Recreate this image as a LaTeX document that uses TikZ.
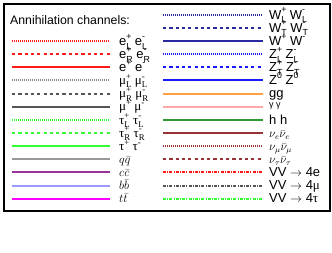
\documentclass[tikz,border=0pt]{standalone}
\usepackage{fontspec}
\setmainfont{Liberation Sans}
\newfontfamily\grk{Liberation Serif}
\definecolor{cred}{HTML}{FF1A1A}
\definecolor{cmu}{HTML}{555555}
\definecolor{cmul}{HTML}{888888}
\definecolor{cgrn}{HTML}{33FF33}
\definecolor{cq}{HTML}{999999}
\definecolor{cc}{HTML}{993399}
\definecolor{cb}{HTML}{9999FF}
\definecolor{ct}{HTML}{FF00FF}
\definecolor{cw}{HTML}{2A2A9F}
\definecolor{cz}{HTML}{1A1AFF}
\definecolor{cg}{HTML}{FF9F40}
\definecolor{cgam}{HTML}{FFA8A8}
\definecolor{ch}{HTML}{339933}
\definecolor{cnu}{HTML}{993333}
\newcommand\smallsz{\fontsize{8.8}{8.8}\selectfont}
\newcommand\lsup[3]{#1\rlap{\raisebox{0.9ex}{\smallsz #2}}\raisebox{-0.55ex}{\smallsz #3}}
\newcommand\lup[2]{#1\raisebox{0.9ex}{\smallsz #2}}
\tikzset{
  solidln/.style={line width=2pt},
  dottedln/.style={line width=1.5pt, dash pattern=on 1pt off 1pt},
  dashedln/.style={line width=2pt, dash pattern=on 3.2pt off 3.1pt},
  dashdotln/.style={line width=2pt, dash pattern=on 3pt off 1.2pt on 1pt off 1.2pt},
  lbl/.style={anchor=base west, inner sep=0pt, font=\fontsize{13}{13}\selectfont},
  frame/.style={draw=black, line width=1.8pt},
}
\newcommand\leftrow[4]{%
  \coordinate (#1s) at (12,{round(14.7+13.14*#2)});
  \coordinate (#1e) at (110,{round(14.7+13.14*#2)});
  \draw[#3] (#1s) -- (#1e);
  \node[lbl] (#1) at (119,{19+13.14*#2}) {#4};}
\newcommand\rightrow[4]{%
  \coordinate (#1s) at (163,{round(14.7+13.14*#2)});
  \coordinate (#1e) at (263,{round(14.7+13.14*#2)});
  \draw[#3] (#1s) -- (#1e);
  \node[lbl] (#1) at (269,{19+13.14*#2}) {#4};}
\begin{document}
\begin{tikzpicture}[x=1pt,y=-1pt]
\useasboundingbox[fill=white] (0,0) rectangle (332,252);
\node[frame, minimum width=326pt, minimum height=207pt, anchor=north west, inner sep=0pt] (box) at (3,3) {};
\node[anchor=base west, inner sep=0pt, font=\fontsize{12.3}{12}\selectfont] (title) at (10,24) {Annihilation channels:};
% left column
\leftrow{eL}{2}{dottedln, cred}{\lsup{e}{+}{L} \lsup{e}{-}{L}}
\leftrow{eR}{3}{dashedln, cred}{\lsup{e}{+}{R} \lsup{e}{-}{R}}
\leftrow{ee}{4}{solidln, cred}{\lup{e}{+} \lup{e}{-}}
\leftrow{muL}{5}{dottedln, cmul}{\lsup{\grk μ}{+}{L} \lsup{\grk μ}{-}{L}}
\leftrow{muR}{6}{dashedln, cmu}{\lsup{\grk μ}{+}{R} \lsup{\grk μ}{-}{R}}
\leftrow{mumu}{7}{solidln, cmu}{\lup{\grk μ}{+} \lup{\grk μ}{-}}
\leftrow{tauL}{8}{dottedln, cgrn}{\lsup{\grk τ}{+}{L} \lsup{\grk τ}{-}{L}}
\leftrow{tauR}{9}{dashedln, cgrn}{\lsup{\grk τ}{+}{R} \lsup{\grk τ}{-}{R}}
\leftrow{tautau}{10}{solidln, cgrn}{\lup{\grk τ}{+} \lup{\grk τ}{-}}
\leftrow{qq}{11}{solidln, cq}{$q\bar{q}$}
\leftrow{ccb}{12}{solidln, cc}{$c\bar{c}$}
\leftrow{bb}{13}{solidln, cb}{$b\bar{b}$}
\leftrow{tt}{14}{solidln, ct}{$t\bar{t}$}
% right column
\rightrow{WL}{0}{dottedln, cw}{\lsup{W}{+}{L} \lsup{W}{-}{L}}
\rightrow{WT}{1}{dashedln, cw}{\lsup{W}{+}{T} \lsup{W}{-}{T}}
\rightrow{WW}{2}{solidln, cw}{\lup{W}{+} \lup{W}{-}}
\rightrow{ZL}{3}{dottedln, cz}{\lsup{Z}{+}{L} \lsup{Z}{-}{L}}
\rightrow{ZT}{4}{dashedln, cz}{\lsup{Z}{+}{T} \lsup{Z}{-}{T}}
\rightrow{ZZ}{5}{solidln, cz}{\lup{Z}{0} \lup{Z}{0}}
\rightrow{gg}{6}{solidln, cg}{gg}
\rightrow{gam}{7}{solidln, cgam}{\raisebox{0.5ex}{\fontsize{9}{9}\selectfont γ γ}}
\rightrow{hh}{8}{solidln, ch}{h h}
\rightrow{nue}{9}{solidln, cnu}{\fontsize{11.5}{11.5}\selectfont$\nu_e\bar{\nu}_e$}
\rightrow{numu}{10}{dottedln, cnu}{\fontsize{11.5}{11.5}\selectfont$\nu_\mu\bar{\nu}_\mu$}
\rightrow{nutau}{11}{dashedln, cnu}{\fontsize{11.5}{11.5}\selectfont$\nu_\tau\bar{\nu}_\tau$}
\rightrow{VVe}{12}{dashdotln, cred}{VV $\rightarrow$ 4e}
\rightrow{VVmu}{13}{dashdotln, cmu}{VV $\rightarrow$ 4{\grk μ}}
\rightrow{VVtau}{14}{dashdotln, cgrn}{VV $\rightarrow$ 4{\grk τ}}
\end{tikzpicture}
\end{document}
